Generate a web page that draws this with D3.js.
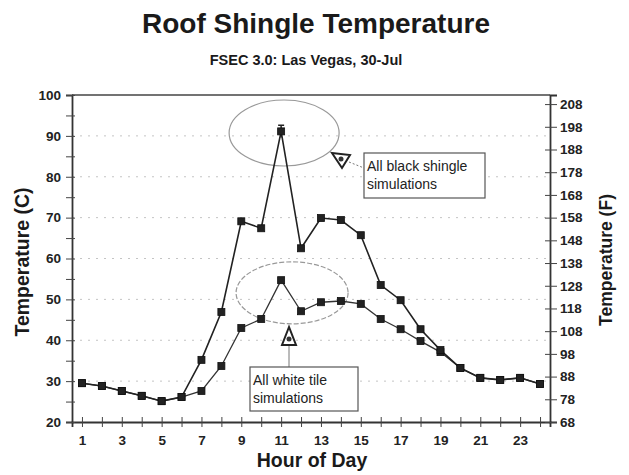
<!DOCTYPE html>
<html>
<head>
<meta charset="utf-8">
<script src="https://cdn.jsdelivr.net/npm/d3@7"></script>
<style>
  body { margin: 0; background: #fff; }
  svg { font-family: "Liberation Sans", Arial, sans-serif; }
</style>
</head>
<body>
<div id="vis"></div>
<script>
const W = 629, H = 475;
const M = { left: 72, right: 79, top: 95, bottom: 53 };

// data
const hours = d3.range(1, 25);
const blackShingle = [29.5, 28.8, 27.6, 26.4, 25.1, 26.1, 35.2, 46.9, 69.1, 67.4, 91.1, 62.5,
                      69.9, 69.4, 65.7, 53.5, 49.8, 42.7, 37.6, 33.2, 30.8, 30.3, 30.8, 29.3];
const whiteTile = [29.5, 28.8, 27.6, 26.4, 25.1, 26.1, 27.6, 33.7, 43.0, 45.2, 54.7, 47.1,
                   49.3, 49.6, 48.9, 45.2, 42.7, 39.8, 37.1, 33.2, 30.8, 30.3, 30.8, 29.3];
const peakErr = { hour: 11, lo: 89.6, hi: 92.6 };
const cTicks = [20, 30, 40, 50, 60, 70, 80, 90, 100];
const fTicks = [68, 78, 88, 98, 108, 118, 128, 138, 148, 158, 168, 178, 188, 198, 208];
const xLabels = [1, 3, 5, 7, 9, 11, 13, 15, 17, 19, 21, 23];

const svg = d3.select("#vis").append("svg").attr("width", W).attr("height", H);

const x = d3.scaleLinear().domain([0.5, 24.5]).range([M.left, W - M.right]);
const y = d3.scaleLinear().domain([20, 100]).range([H - M.bottom, M.top]);
const yF = d3.scaleLinear().domain([68, 212]).range([H - M.bottom, M.top]);

// grid
svg.append("g")
  .selectAll("line")
  .data(cTicks.slice(1, -1))
  .join("line")
  .attr("x1", M.left).attr("x2", W - M.right)
  .attr("y1", d => y(d)).attr("y2", d => y(d))
  .attr("stroke", "#c4c4c4").attr("stroke-width", 1)
  .attr("stroke-dasharray", "2,6");

// frame top
svg.append("line")
  .attr("x1", M.left).attr("x2", W - M.right)
  .attr("y1", M.top).attr("y2", M.top)
  .attr("stroke", "#444").attr("stroke-width", 1.5);

// axes
const xAxis = svg.append("g")
  .attr("transform", "translate(0," + (H - M.bottom) + ")")
  .call(d3.axisBottom(x).tickValues(hours).tickSize(5)
    .tickFormat(d => xLabels.includes(d) ? d : ""));
xAxis.selectAll(".tick line").attr("y1", -5).attr("y2", 5);

const yAxis = svg.append("g")
  .attr("transform", "translate(" + M.left + ",0)")
  .call(d3.axisLeft(y).tickValues(d3.range(20, 101, 5)).tickSize(6)
    .tickFormat(d => d % 10 === 0 ? d : ""));
yAxis.selectAll(".tick line").attr("x1", -6).attr("x2", 3);

const fAxis = svg.append("g")
  .attr("transform", "translate(" + (W - M.right) + ",0)")
  .call(d3.axisRight(yF).tickValues(fTicks).tickSize(7));
fAxis.selectAll(".tick line").attr("x1", -5).attr("x2", 7);

[xAxis, yAxis, fAxis].forEach(a => {
  a.select(".domain").attr("stroke", "#333").attr("stroke-width", 1.8);
  a.selectAll(".tick line").attr("stroke", "#444");
  a.selectAll("text").attr("font-size", 13.5).attr("font-weight", "bold").attr("fill", "#222")
    .attr("font-family", "'Liberation Sans', Arial, sans-serif");
});
xAxis.selectAll("text").attr("dy", "1.1em");
yAxis.selectAll("text").attr("x", -11);

// ellipses (annotation)
svg.append("ellipse")
  .attr("cx", x(11.15)).attr("cy", y(90.7)).attr("rx", 55).attr("ry", 33)
  .attr("fill", "none").attr("stroke", "#999").attr("stroke-width", 1.2);
svg.append("ellipse")
  .attr("cx", x(11.55)).attr("cy", y(51.6)).attr("rx", 56).attr("ry", 31)
  .attr("fill", "none").attr("stroke", "#999").attr("stroke-width", 1.2)
  .attr("stroke-dasharray", "5,2");

// lines
const line = d3.line().x((d, i) => x(hours[i])).y(d => y(d));
svg.append("path").datum(whiteTile).attr("d", line)
  .attr("fill", "none").attr("stroke", "#333").attr("stroke-width", 1.3);
svg.append("path").datum(blackShingle).attr("d", line)
  .attr("fill", "none").attr("stroke", "#222").attr("stroke-width", 1.6);

// error bar at peak
svg.append("line")
  .attr("x1", x(peakErr.hour)).attr("x2", x(peakErr.hour))
  .attr("y1", y(peakErr.lo)).attr("y2", y(peakErr.hi))
  .attr("stroke", "#222").attr("stroke-width", 1.5);
svg.append("line")
  .attr("x1", x(peakErr.hour) - 3).attr("x2", x(peakErr.hour) + 3)
  .attr("y1", y(peakErr.hi)).attr("y2", y(peakErr.hi))
  .attr("stroke", "#222").attr("stroke-width", 1.5);

// markers
[whiteTile, blackShingle].forEach(s => {
  svg.append("g").selectAll("rect")
    .data(s)
    .join("rect")
    .attr("x", (d, i) => x(hours[i]) - 3.5)
    .attr("y", d => y(d) - 3.5)
    .attr("width", 7).attr("height", 7)
    .attr("fill", "#222").attr("stroke", "#111").attr("stroke-width", 0.8);
});

// callouts
function tri(cx, cy, up) {
  const pts = up
    ? [[cx, cy - 9], [cx - 7, cy + 9], [cx + 7, cy + 9]]
    : [[cx - 9, cy - 7], [cx + 9, cy - 5], [cx + 1, cy + 8]];
  svg.append("polygon").attr("points", pts.map(p => p.join(",")).join(" "))
    .attr("fill", "#fff").attr("stroke", "#222").attr("stroke-width", 2);
  svg.append("circle").attr("cx", cx).attr("cy", cy + (up ? 3 : -1)).attr("r", 2.5).attr("fill", "#333");
}

function box(x0, y0, w, h, lines) {
  svg.append("rect").attr("x", x0).attr("y", y0).attr("width", w).attr("height", h)
    .attr("fill", "#fff").attr("stroke", "#555").attr("stroke-width", 1.2);
  svg.append("text").attr("x", x0 + 3).attr("y", y0 + 18)
    .attr("font-size", 14).attr("fill", "#222")
    .selectAll("tspan").data(lines).join("tspan")
    .attr("x", x0 + 3).attr("dy", (d, i) => i ? 18 : 0).text(d => d);
}

// black callout
svg.append("line").attr("x1", 349).attr("y1", 162).attr("x2", 364).attr("y2", 168)
  .attr("stroke", "#777").attr("stroke-dasharray", "2,2");
tri(341, 160, false);
box(364, 153, 121, 45, ["All black shingle", "simulations"]);

// white callout
svg.append("line").attr("x1", 289).attr("y1", 345).attr("x2", 289).attr("y2", 367)
  .attr("stroke", "#777").attr("stroke-width", 1);
tri(289, 336, true);
box(250, 367, 108, 44, ["All white tile", "simulations"]);

// titles
svg.append("text").attr("x", 316).attr("y", 33).attr("text-anchor", "middle")
  .attr("font-size", 28).attr("font-weight", "bold").attr("fill", "#1a1a1a")
  .text("Roof Shingle Temperature");
svg.append("text").attr("x", 306).attr("y", 65).attr("text-anchor", "middle")
  .attr("font-size", 14.5).attr("font-weight", "bold").attr("fill", "#1a1a1a")
  .text("FSEC 3.0: Las Vegas, 30-Jul");
svg.append("text").attr("x", 312).attr("y", 467).attr("text-anchor", "middle")
  .attr("font-size", 19.5).attr("font-weight", "bold").attr("fill", "#1a1a1a")
  .text("Hour of Day");
svg.append("text").attr("transform", "translate(29,262) rotate(-90)").attr("text-anchor", "middle")
  .attr("font-size", 19.5).attr("font-weight", "bold").attr("fill", "#1a1a1a")
  .text("Temperature (C)");
svg.append("text").attr("transform", "translate(612,260) rotate(-90)").attr("text-anchor", "middle")
  .attr("font-size", 17.5).attr("font-weight", "bold").attr("fill", "#1a1a1a")
  .text("Temperature (F)");
</script>
</body>
</html>
